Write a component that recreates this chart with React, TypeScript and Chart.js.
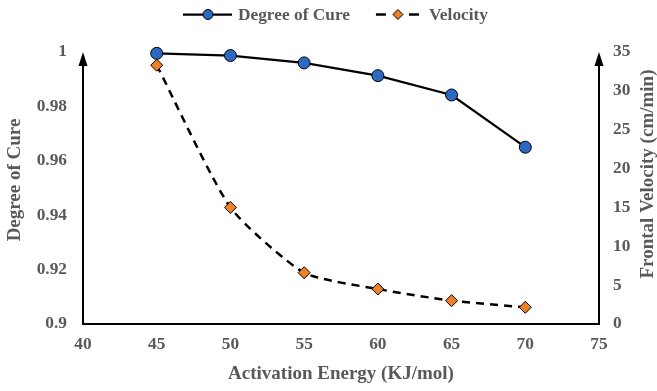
import React, { useEffect, useRef } from "react";
import { Chart, registerables } from "chart.js";

Chart.register(...registerables);

const activationEnergy = [45, 50, 55, 60, 65, 70];
const degreeOfCure = [0.9995, 0.9987, 0.996, 0.9913, 0.9842, 0.965];
const velocity = [33.3, 15.0, 6.6, 4.5, 3.0, 2.15];
const seriesLabels = ["Degree of Cure", "Velocity"];
const xTitle = "Activation Energy (KJ/mol)";
const yLeftTitle = "Degree of Cure";
const yRightTitle = "Frontal Velocity (cm/min)";

const FONT = "'Liberation Serif', 'Times New Roman', serif";
const GRAY = "#595959";
const BLUE = "#2D69C2";
const ORANGE = "#EE8125";
const TICK_SIZE = 17.33;
const TITLE_SIZE = 19;

const decorPlugin = {
  id: "decor",
  beforeDatasetsDraw(chart: any) {
    const ctx = chart.ctx;
    const { left, right, top, bottom } = chart.chartArea;
    ctx.save();
    ctx.strokeStyle = "#000";
    ctx.fillStyle = "#000";
    ctx.lineWidth = 2;
    ctx.lineCap = "square";
    ctx.beginPath();
    ctx.moveTo(left, bottom);
    ctx.lineTo(right, bottom);
    ctx.stroke();
    const arrowLen = 14;
    const half = 4.5;
    [left, right].forEach((x) => {
      ctx.beginPath();
      ctx.moveTo(x, bottom);
      ctx.lineTo(x, top + arrowLen - 1);
      ctx.stroke();
      ctx.beginPath();
      ctx.moveTo(x, top);
      ctx.lineTo(x - half, top + arrowLen);
      ctx.lineTo(x + half, top + arrowLen);
      ctx.closePath();
      ctx.fill();
    });
    ctx.restore();
  },
  afterDraw(chart: any) {
    const ctx = chart.ctx;
    const { top, bottom } = chart.chartArea;
    ctx.save();
    // y titles
    ctx.font = `bold ${TITLE_SIZE}px ${FONT}`;
    ctx.fillStyle = GRAY;
    ctx.textAlign = "center";
    ctx.textBaseline = "middle";
    ctx.save();
    ctx.translate(15.5, (top + bottom) / 2 - 8);
    ctx.rotate(-Math.PI / 2);
    ctx.fillText(yLeftTitle, 0, 0);
    ctx.restore();
    ctx.save();
    ctx.translate(648, (top + bottom) / 2 - 14);
    ctx.rotate(-Math.PI / 2);
    ctx.fillText(yRightTitle, 0, 0);
    ctx.restore();

    // legend
    const ly = 14.5;
    ctx.font = `bold ${TICK_SIZE}px ${FONT}`;
    ctx.textAlign = "left";
    let x = 183;
    // item 1: solid line + circle
    ctx.strokeStyle = "#000";
    ctx.lineWidth = 2.25;
    ctx.beginPath();
    ctx.moveTo(x, ly);
    ctx.lineTo(x + 49, ly);
    ctx.stroke();
    ctx.beginPath();
    ctx.arc(x + 25, ly, 5, 0, Math.PI * 2);
    ctx.fillStyle = BLUE;
    ctx.fill();
    ctx.lineWidth = 1;
    ctx.stroke();
    x += 55;
    ctx.fillStyle = GRAY;
    ctx.fillText(seriesLabels[0], x, ly + 1);
    x += ctx.measureText(seriesLabels[0]).width + 26;
    // item 2: dashed line + diamond
    ctx.lineWidth = 2.5;
    ctx.beginPath();
    ctx.moveTo(x, ly);
    ctx.lineTo(x + 10, ly);
    ctx.moveTo(x + 33, ly);
    ctx.lineTo(x + 43, ly);
    ctx.stroke();
    const dx = x + 22;
    const r = 5;
    ctx.beginPath();
    ctx.moveTo(dx, ly - r);
    ctx.lineTo(dx + r, ly);
    ctx.lineTo(dx, ly + r);
    ctx.lineTo(dx - r, ly);
    ctx.closePath();
    ctx.fillStyle = ORANGE;
    ctx.fill();
    ctx.lineWidth = 1;
    ctx.stroke();
    x += 53;
    ctx.fillStyle = GRAY;
    ctx.fillText(seriesLabels[1], x, ly + 1);
    ctx.restore();
  },
};

export default function App() {
  const ref = useRef<HTMLCanvasElement | null>(null);

  useEffect(() => {
    if (!ref.current) return;
    const tickFont = { family: FONT, size: TICK_SIZE, weight: "bold" as const };
    const titleFont = { family: FONT, size: TITLE_SIZE, weight: "bold" as const };
    const chart = new Chart(ref.current, {
      type: "line",
      data: {
        datasets: [
          {
            label: seriesLabels[0],
            data: activationEnergy.map((x, i) => ({ x, y: degreeOfCure[i] })),
            yAxisID: "y",
            borderColor: "#000",
            borderWidth: 2.25,
            pointBackgroundColor: BLUE,
            pointBorderColor: "#000",
            pointBorderWidth: 1,
            pointRadius: 6,
            pointStyle: "circle",
            tension: 0,
            clip: false,
          },
          {
            label: seriesLabels[1],
            data: activationEnergy.map((x, i) => ({ x, y: velocity[i] })),
            yAxisID: "y1",
            borderColor: "#000",
            borderWidth: 2.5,
            borderDash: [8, 6],
            pointBackgroundColor: ORANGE,
            pointBorderColor: "#000",
            pointBorderWidth: 1,
            pointRadius: 6,
            pointStyle: "rectRot",
            tension: 0.2,
            clip: false,
          },
        ],
      },
      options: {
        animation: false,
        responsive: false,
        layout: { padding: { top: 52, left: 0, right: 0, bottom: 0 } },
        plugins: {
          legend: { display: false },
          tooltip: { enabled: false },
        },
        scales: {
          x: {
            type: "linear",
            min: 40,
            max: 75,
            ticks: { stepSize: 5, padding: 10, color: GRAY, font: tickFont },
            grid: { display: false, drawTicks: false },
            border: { display: false },
            title: {
              display: true,
              text: xTitle,
              color: GRAY,
              font: titleFont,
              padding: { top: 0, bottom: 6 },
            },
            afterFit: (s: any) => {
              s.height = 67;
            },
          },
          y: {
            type: "linear",
            position: "left",
            min: 0.9,
            max: 1,
            ticks: {
              stepSize: 0.02,
              padding: 16,
              color: GRAY,
              font: tickFont,
              callback: (v: any) => String(parseFloat(Number(v).toFixed(2))),
            },
            grid: { display: false, drawTicks: false },
            border: { display: false },
            afterFit: (s: any) => {
              s.width = 83;
            },
          },
          y1: {
            type: "linear",
            position: "right",
            min: 0,
            max: 35,
            ticks: { stepSize: 5, padding: 14, color: GRAY, font: tickFont },
            grid: { display: false, drawTicks: false },
            border: { display: false },
            afterFit: (s: any) => {
              s.width = 58;
            },
          },
        },
      },
      plugins: [decorPlugin],
    });
    return () => chart.destroy();
  }, []);

  return (
    <div style={{ position: "absolute", left: 0, top: 0, width: 657, height: 391, background: "#fff" }}>
      <canvas ref={ref} width={657} height={391} />
    </div>
  );
}
